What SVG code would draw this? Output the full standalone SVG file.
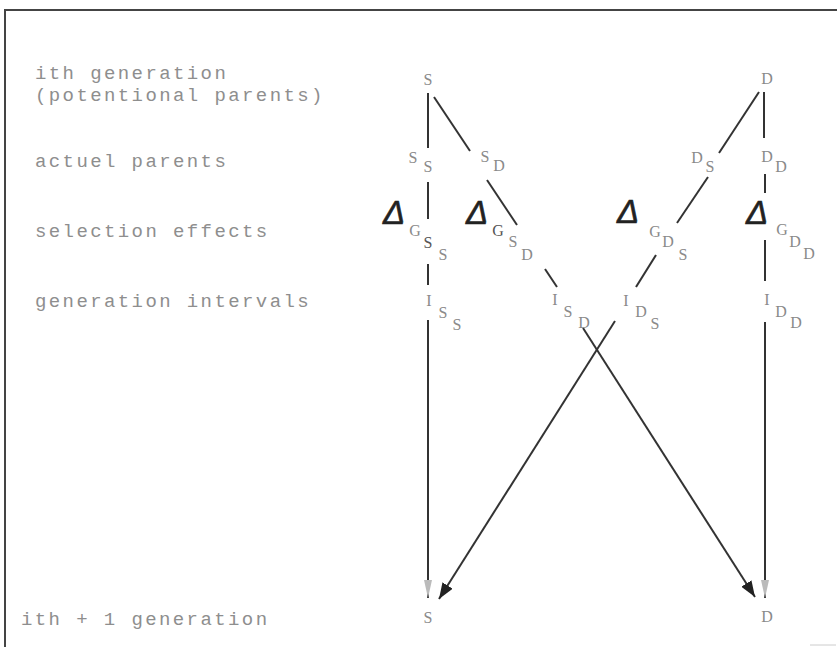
<svg xmlns="http://www.w3.org/2000/svg" width="837" height="647" viewBox="0 0 837 647">
<defs>
<style>
.lab{font-family:"Liberation Mono","DejaVu Sans Mono",monospace;font-size:19px;letter-spacing:2.4px;fill:#8e8e8e}
.n{font-family:"Liberation Serif","DejaVu Serif",serif;font-size:16px;fill:#8a8a8a;text-anchor:middle}
.nd{fill:#555}
.dl{font-family:"Liberation Sans","Arial",sans-serif;font-weight:normal;font-style:italic;font-size:33px;fill:#222;stroke:#222;stroke-width:0.6;text-anchor:middle}
.c{stroke:#333;stroke-width:2;fill:none}
</style>
<marker id="ah" markerUnits="userSpaceOnUse" markerWidth="18" markerHeight="12" refX="16" refY="6" orient="auto">
<path d="M0,0 L16,6 L0,12 Z" fill="#222"/>
</marker>
<marker id="ahv" markerUnits="userSpaceOnUse" markerWidth="18" markerHeight="10" refX="18" refY="4" orient="auto">
<path d="M0,0 L18,4 L0,8 Z" fill="#bbb"/>
</marker>
</defs>
<rect width="837" height="647" fill="#fff"/>
<g id="frame" stroke="#444" stroke-width="2" fill="none">
<path d="M5,647 V10 H837"/>
<path d="M810,645 H836" stroke="#ccc" stroke-width="1"/>
</g>
<g id="labels">
<text class="lab" x="35" y="79">ith generation</text>
<text class="lab" x="35" y="101">(potentional parents)</text>
<text class="lab" x="35" y="167">actuel parents</text>
<text class="lab" x="35" y="237">selection effects</text>
<text class="lab" x="35" y="307">generation intervals</text>
<text class="lab" x="21" y="625">ith + 1 generation</text>
</g>
<g id="connectors">
<line class="c" x1="428" y1="93" x2="428" y2="148"/>
<line class="c" x1="434" y1="97" x2="470" y2="151"/>
<line class="c" x1="487" y1="180" x2="517" y2="225"/>
<line class="c" x1="545" y1="269" x2="557" y2="287"/>
<line class="c" x1="583" y1="328" x2="755" y2="597" marker-end="url(#ah)"/>
<line class="c" x1="428" y1="182" x2="428" y2="219"/>
<line class="c" x1="428" y1="264" x2="428" y2="285"/>
<line class="c" x1="428" y1="320" x2="428" y2="598" marker-end="url(#ahv)"/>
<line class="c" x1="759" y1="92" x2="719" y2="153"/>
<line class="c" x1="764" y1="92" x2="764" y2="138"/>
<line class="c" x1="708" y1="177" x2="677" y2="223"/>
<line class="c" x1="656" y1="255" x2="636" y2="287"/>
<line class="c" x1="615" y1="321" x2="439" y2="599" marker-end="url(#ah)"/>
<line class="c" x1="765" y1="174" x2="765" y2="193"/>
<line class="c" x1="765" y1="240" x2="765" y2="281"/>
<line class="c" x1="765" y1="322" x2="765" y2="598" marker-end="url(#ahv)"/>
</g>
<g id="S_top"><text class="n" x="428" y="85">S</text></g>
<g id="D_top"><text class="n" x="767" y="84">D</text></g>
<g id="S_S"><text class="n" x="413" y="163">S</text><text class="n" x="428" y="172">S</text></g>
<g id="S_D"><text class="n" x="485" y="162">S</text><text class="n" x="499" y="171">D</text></g>
<g id="D_S"><text class="n" x="697" y="163">D</text><text class="n" x="710" y="172">S</text></g>
<g id="D_D"><text class="n" x="767" y="162">D</text><text class="n" x="781" y="172">D</text></g>
<g id="dG_SS"><text class="dl" x="394" y="224">Δ</text><text class="n" x="415" y="236">G</text><text class="n nd" x="428" y="248">S</text><text class="n" x="443" y="260">S</text></g>
<g id="dG_SD"><text class="dl" x="477" y="224">Δ</text><text class="n nd" x="498" y="236">G</text><text class="n" x="513" y="247">S</text><text class="n" x="527" y="260">D</text></g>
<g id="dG_DS"><text class="dl" x="628" y="223">Δ</text><text class="n" x="655" y="237">G</text><text class="n" x="668" y="247">D</text><text class="n" x="683" y="260">S</text></g>
<g id="dG_DD"><text class="dl" x="757" y="224">Δ</text><text class="n" x="782" y="235">G</text><text class="n" x="795" y="247">D</text><text class="n" x="809" y="259">D</text></g>
<g id="I_SS"><text class="n" x="429" y="306">I</text><text class="n" x="443" y="318">S</text><text class="n" x="457" y="330">S</text></g>
<g id="I_SD"><text class="n" x="555" y="305">I</text><text class="n" x="568" y="317">S</text><text class="n" x="584" y="328">D</text></g>
<g id="I_DS"><text class="n" x="626" y="306">I</text><text class="n" x="641" y="317">D</text><text class="n" x="655" y="329">S</text></g>
<g id="I_DD"><text class="n" x="767" y="305">I</text><text class="n" x="781" y="317">D</text><text class="n" x="796" y="328">D</text></g>
<g id="S_next"><text class="n" x="428" y="623">S</text></g>
<g id="D_next"><text class="n" x="767" y="622">D</text></g>
</svg>
